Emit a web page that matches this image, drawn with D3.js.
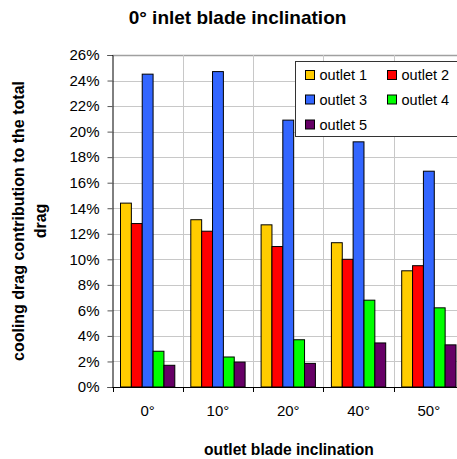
<!DOCTYPE html>
<html><head><meta charset="utf-8">
<script src="https://cdn.jsdelivr.net/npm/d3@7"></script>
<style>body{margin:0;background:#fff}svg{display:block;font-family:Arial,"Liberation Sans",sans-serif}</style>
</head><body>
<script>
const categories = ["0°","10°","20°","40°","50°"];
const seriesNames = ["outlet 1","outlet 2","outlet 3","outlet 4","outlet 5"];
const outlet1 = [14.4, 13.1, 12.7, 11.3, 9.1];
const outlet2 = [12.8, 12.2, 11.0, 10.0, 9.5];
const outlet3 = [24.5, 24.7, 20.9, 19.2, 16.9];
const outlet4 = [2.8, 2.35, 3.7, 6.8, 6.2];
const outlet5 = [1.7, 1.95, 1.85, 3.45, 3.3];
const yTicks = [0,2,4,6,8,10,12,14,16,18,20,22,24,26];
const colors = ["#FFCC00","#FF0000","#3366FF","#00FF00","#660066"];
const series = [outlet1,outlet2,outlet3,outlet4,outlet5];

const W=457,H=459;
const svg=d3.select("body").append("svg").attr("width",W).attr("height",H);
const L=112.5,R=464,T=55,B=387;
const x=d3.scaleBand().domain(categories).range([L,R]);
const xi=d3.scaleBand().domain(seriesNames).range([0,x.bandwidth()]).paddingOuter(0.0);
const y=d3.scaleLinear().domain([0,26]).range([B,T]);
const inner=8;
const bw=(x.bandwidth()-2*inner)/5;

// grid
svg.append("g").selectAll("line").data(yTicks.filter(d=>d>0)).join("line")
 .attr("x1",L).attr("x2",R).attr("y1",d=>Math.round(y(d))+0.5).attr("y2",d=>Math.round(y(d))+0.5)
 .attr("stroke",d=>d===26?"#a0a0a0":"#c8c8c8").attr("stroke-width",d=>d===26?1.5:1);
svg.append("g").selectAll("line").data(categories.slice(1)).join("line")
 .attr("x1",d=>Math.round(x(d))+0.5).attr("x2",d=>Math.round(x(d))+0.5).attr("y1",T).attr("y2",B)
 .attr("stroke","#c8c8c8");

// bars
categories.forEach((c,ci)=>{
  series.forEach((s,si)=>{
    svg.append("rect").attr("x",x(c)+inner+si*bw).attr("y",y(s[ci]))
      .attr("width",bw).attr("height",B-y(s[ci]))
      .attr("fill",colors[si]).attr("stroke","#000").attr("stroke-width",1);
  });
});

// y axis
const ya=svg.append("g").attr("transform",`translate(${L},0)`)
 .call(d3.axisLeft(y).tickValues(yTicks).tickFormat(d=>d+"%").tickSize(5).tickPadding(8));
ya.select(".domain").attr("stroke","#000");
ya.selectAll(".tick line").attr("stroke","#555");
ya.selectAll("text").attr("font-size",15).attr("fill","#000").attr("font-family","Arial,'Liberation Sans',sans-serif");

// x axis
svg.append("line").attr("x1",L).attr("x2",R).attr("y1",B+0.5).attr("y2",B+0.5).attr("stroke","#000");
svg.append("g").selectAll("line").data(categories).join("line")
 .attr("x1",d=>Math.round(x(d))+0.5).attr("x2",d=>Math.round(x(d))+0.5).attr("y1",B).attr("y2",B+5).attr("stroke","#000");
svg.append("g").selectAll("text").data(categories).join("text")
 .attr("x",d=>x(d)+x.bandwidth()/2).attr("y",416).attr("text-anchor","middle")
 .attr("font-size",15).text(d=>d);

// titles
svg.append("text").attr("x",237.5).attr("y",24).attr("text-anchor","middle")
 .attr("font-size",19).attr("font-weight","bold").text("0° inlet blade inclination");
svg.append("text").attr("x",289).attr("y",455).attr("text-anchor","middle")
 .attr("font-size",15.6).attr("font-weight","bold").text("outlet blade inclination");
const yt=svg.append("text").attr("transform","translate(24,221) rotate(-90)")
 .attr("text-anchor","middle").attr("font-size",16).attr("font-weight","bold");
yt.append("tspan").attr("x",0).attr("y",0).text("cooling drag contribution to the total");
yt.append("tspan").attr("x",0).attr("y",22).text("drag");

// legend
const lg=svg.append("g");
lg.append("rect").attr("x",295.5).attr("y",61.5).attr("width",170).attr("height",75)
 .attr("fill","#fff").attr("stroke","#333");
const pos=[[305,75],[387,75],[305,99.5],[387,99.5],[305,124.5]];
seriesNames.forEach((n,i)=>{
  lg.append("rect").attr("x",pos[i][0]+0.5).attr("y",pos[i][1]-4.5).attr("width",9).attr("height",9)
   .attr("fill",colors[i]).attr("stroke","#000");
  lg.append("text").attr("x",pos[i][0]+14.5).attr("y",pos[i][1]+5).attr("font-size",14.5).text(n);
});
</script>
</body></html>
